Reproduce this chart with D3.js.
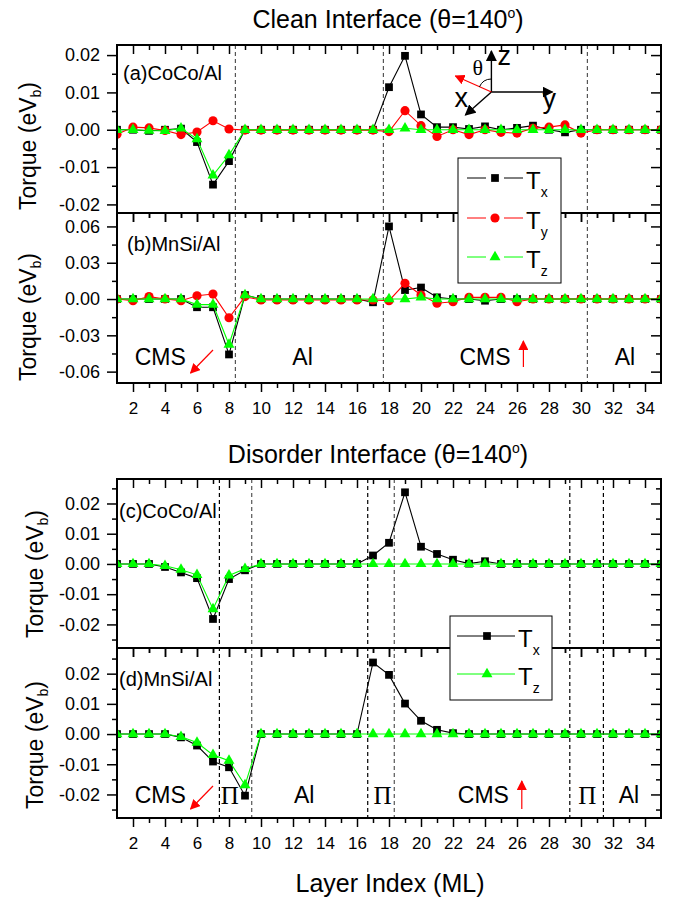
<!DOCTYPE html>
<html><head><meta charset="utf-8">
<script src="https://cdn.jsdelivr.net/npm/d3@7"></script>
<style>
body{margin:0;background:#fff}
svg{display:block}
text{font-family:"Liberation Sans",Arial,sans-serif;fill:#000}
</style>
</head><body>
<svg id="chart" width="680" height="901"></svg>
<script>
// ---------------- DATA ----------------
const layers = d3.range(1, 36); // layer index 1..35
const xMajorTicks = [2,4,6,8,10,12,14,16,18,20,22,24,26,28,30,32,34];
const xMinorTicks = [3,5,7,9,11,13,15,17,19,21,23,25,27,29,31,33];

// (a) CoCo/Al clean
const aTx = [0,0,-0.0003,0,0.0003,-0.0033,-0.0147,-0.0084,0,0,0,0,0,0,0,0,0,0.0114,0.0198,0.0041,0.0007,0.0007,0.0002,0.0009,0,0.0005,0.0011,0,-0.0007,0,0,0,0,0,0];
const aTy = [-0.0012,0.0007,0.0005,-0.0002,-0.0013,-0.0006,0.0024,0.0002,-0.0001,-0.0001,-0.0001,-0.0001,-0.0001,-0.0001,-0.0001,-0.0001,-0.0001,-0.0005,0.0051,0.0011,-0.0018,0,-0.0013,0,-0.0007,-0.0009,0.0004,0.0007,0.0013,-0.0009,0,0,0,0,0];
const aTz = [0,0,-0.0002,-0.0003,0.0004,-0.0025,-0.0122,-0.0068,0,0,0,0,0,0,0,0,0,0,0.0004,0,0,0,0,0,0,0,0,0,0,0,0,0,0,0,0];
// (b) MnSi/Al clean
const bTx = [0,0,0,0,0,-0.0068,-0.0068,-0.0458,0.0033,0,0,0,0,0,0,0,-0.0027,0.060,0.0074,0.0095,0.0014,0,0,-0.0014,0,0,0,0,0,0,0,0,0,0,0];
const bTy = [0,-0.0014,0.0020,0,-0.0014,0.0027,0.0041,-0.0155,0.0020,-0.0008,-0.0008,-0.0008,-0.0008,-0.0008,-0.0008,-0.0008,-0.0008,-0.0014,0.0130,0.0033,-0.0035,-0.0022,0.0014,0.0014,0.0014,-0.0022,0,0,0,0,0,0,0,0,0];
const bTz = [0,0,0,0,0,-0.0046,-0.0046,-0.0376,0.0033,0,0,0,0,0,0,0,0,0,0,0.0014,0,0,0,0,0,0,0,0,0,0,0,0,0,0,0];
// (c) CoCo/Al disorder
const cTx = [0,0,0,-0.0010,-0.0028,-0.0047,-0.0182,-0.0050,-0.0021,0,0,0,0,0,0,0,0.0028,0.0070,0.0237,0.0057,0.0033,0.0014,0.0001,0.0009,0,0,0,0,0,0,0,0,0,0,0];
const cTz = [0,0,0,-0.0006,-0.0019,-0.0036,-0.0149,-0.0038,-0.0016,0,0,0,0,0,0,0,0,0,0,0,0,0,0,0,0,0,0,0,0,0,0,0,0,0,0];
// (d) MnSi/Al disorder
const dTx = [0,0,0,0,-0.0011,-0.0038,-0.0091,-0.0110,-0.0204,0,0,0,0,0,0,0,0.0237,0.0196,0.0101,0.0044,0.0014,0.0003,0,0,0,0,0,0,0,0,0,0,0,0,0];
const dTz = [0,0,0,0,-0.0009,-0.0028,-0.0069,-0.0088,-0.0169,0,0,0,0,0,0,0,0,0,0,0,0,0,0,0,0,0,0,0,0,0,0,0,0,0,0];

const yTicksA = [-0.02,-0.01,0,0.01,0.02];
const yMinorA = [-0.015,-0.005,0.005,0.015];
const yTicksB = [-0.06,-0.03,0,0.03,0.06];
const yMinorB = [-0.045,-0.015,0.015,0.045];
const yTicksCD = [-0.02,-0.01,0,0.01,0.02];
const yMinorCD = [-0.025,-0.015,-0.005,0.005,0.015,0.025];

const cleanBoundaries = [8.4, 17.65, 30.4];
const disorderBoundaries = [7.4, 9.42, 16.67, 18.33, 29.3, 31.4];
const disorderBoundaryDark = [true, false, true, false, true, true];

const cleanRegions = [{t:"CMS",at:3.7},{t:"Al",at:12.6},{t:"CMS",at:24.0},{t:"Al",at:32.75}];
const disorderRegions = [{t:"CMS",at:3.7},{t:"Al",at:12.7},{t:"CMS",at:23.9},{t:"Al",at:33.0}];
const piRegions = [8.05, 17.6, 30.4];

// ---------------- LAYOUT ----------------
const svg = d3.select("#chart");
const L = 117, R = 661;
const x = d3.scaleLinear().domain([1, 35]).range([L, R]);
const BLACK = "#000", RED = "#ff0000", GREEN = "#00ff00";
const SQ = {type: d3.symbolSquare, size: 60};
const CI = {type: d3.symbolCircle, size: 66};
const TR = {type: d3.symbolTriangle, size: 52};

const panels = [
  {id:"a", top:45, bottom:213, domain:[-0.0223,0.0227], ticks:yTicksA, minor:yMinorA, label:"(a)CoCo/Al", lx:123, ly:80, showX:false,
   series:[{v:aTx,c:BLACK,s:SQ},{v:aTy,c:RED,s:CI},{v:aTz,c:GREEN,s:TR}]},
  {id:"b", top:213, bottom:383, domain:[-0.0694,0.0711], ticks:yTicksB, minor:yMinorB, label:"(b)MnSi/Al", lx:127, ly:251, showX:true,
   series:[{v:bTx,c:BLACK,s:SQ},{v:bTy,c:RED,s:CI},{v:bTz,c:GREEN,s:TR}]},
  {id:"c", top:479, bottom:648, domain:[-0.0278,0.0281], ticks:yTicksCD, minor:yMinorCD, label:"(c)CoCo/Al", lx:119, ly:518, showX:false,
   series:[{v:cTx,c:BLACK,s:SQ},{v:cTz,c:GREEN,s:TR}]},
  {id:"d", top:648, bottom:818, domain:[-0.0278,0.0285], ticks:yTicksCD, minor:yMinorCD, label:"(d)MnSi/Al", lx:119, ly:686, showX:true,
   series:[{v:dTx,c:BLACK,s:SQ},{v:dTz,c:GREEN,s:TR}]}
];

const defs = svg.append("defs");
const scales = {};

function styleAxis(g){
  g.select(".domain").remove();
  g.selectAll(".tick line").attr("stroke","#000").attr("stroke-width",1.5);
  g.selectAll(".tick text").style("font-family",'"Liberation Sans",Arial,sans-serif').attr("fill","#000");
}

// boundaries first (under data)
function boundaries(list, top, bottom, darkFlags){
  list.forEach((b,i)=>{
    svg.append("line").attr("x1",x(b)).attr("x2",x(b)).attr("y1",top).attr("y2",bottom)
      .attr("stroke", darkFlags && darkFlags[i] ? "#000" : "#555")
      .attr("stroke-width",1.2).attr("stroke-dasharray","4,3");
  });
}
boundaries(cleanBoundaries, 45, 383, null);
boundaries(disorderBoundaries, 479, 818, disorderBoundaryDark);

panels.forEach(p=>{
  const y = d3.scaleLinear().domain(p.domain).range([p.bottom, p.top]);
  scales[p.id] = y;
  defs.append("clipPath").attr("id","clip"+p.id).append("rect")
    .attr("x",L).attr("y",p.top).attr("width",R-L).attr("height",p.bottom-p.top);
  const plot = svg.append("g").attr("clip-path",`url(#clip${p.id})`);
  p.series.forEach(s=>{
    plot.append("path").datum(s.v).attr("fill","none").attr("stroke",s.c).attr("stroke-width",1.1)
      .attr("d", d3.line().x((d,i)=>x(layers[i])).y(d=>y(d)));
    plot.append("g").selectAll("path").data(s.v).join("path")
      .attr("transform",(d,i)=>`translate(${x(layers[i])},${y(d)})`)
      .attr("d", d3.symbol().type(s.s.type).size(s.s.size))
      .attr("fill", s.c);
  });
  // left axis (outward)
  svg.append("g").attr("transform",`translate(${L},0)`)
    .call(d3.axisLeft(y).tickValues(p.ticks).tickSize(10).tickPadding(7).tickFormat(d=>d.toFixed(2)))
    .call(styleAxis).selectAll(".tick text").style("font-size","18px");
  svg.append("g").attr("transform",`translate(${L},0)`)
    .call(d3.axisLeft(y).tickValues(p.minor).tickSize(5).tickFormat("")).call(styleAxis);
  // right axis (inward)
  svg.append("g").attr("transform",`translate(${R},0)`)
    .call(d3.axisLeft(y).tickValues(p.ticks).tickSize(10).tickFormat("")).call(styleAxis);
  svg.append("g").attr("transform",`translate(${R},0)`)
    .call(d3.axisLeft(y).tickValues(p.minor).tickSize(5).tickFormat("")).call(styleAxis);
  // top axis (inward)
  svg.append("g").attr("transform",`translate(0,${p.top})`)
    .call(d3.axisBottom(x).tickValues(xMajorTicks).tickSize(9).tickFormat("")).call(styleAxis);
  svg.append("g").attr("transform",`translate(0,${p.top})`)
    .call(d3.axisBottom(x).tickValues(xMinorTicks).tickSize(5).tickFormat("")).call(styleAxis);
  // bottom axis (outward)
  const bx = svg.append("g").attr("transform",`translate(0,${p.bottom})`)
    .call(d3.axisBottom(x).tickValues(xMajorTicks).tickSize(9).tickPadding(10).tickFormat(p.showX ? d3.format("d") : ""))
    .call(styleAxis);
  bx.selectAll(".tick text").style("font-size","17px");
  svg.append("g").attr("transform",`translate(0,${p.bottom})`)
    .call(d3.axisBottom(x).tickValues(xMinorTicks).tickSize(5).tickFormat("")).call(styleAxis);
  // frame
  svg.append("rect").attr("x",L).attr("y",p.top).attr("width",R-L).attr("height",p.bottom-p.top)
    .attr("fill","none").attr("stroke","#000").attr("stroke-width",2);
  // panel label
  svg.append("text").attr("x",p.lx).attr("y",p.ly).style("font-size","20px").text(p.label);
  // y title
  const cy = (p.id==="a")?146:(p.id==="b")?317:(p.id==="c")?574:745;
  const tx = (p.id==="a"||p.id==="b")?36:43;
  const t = svg.append("text").attr("transform",`translate(${tx},${cy}) rotate(-90)`)
    .attr("text-anchor","middle").style("font-size","23px");
  t.append("tspan").text("Torque (eV");
  t.append("tspan").attr("dy",5).style("font-size","14px").text("b");
  t.append("tspan").attr("dy",-5).text(")");
});

// ---------------- Region labels ----------------
function regionText(list, yb){
  list.forEach(r=>{
    svg.append("text").attr("x",x(r.at)).attr("y",yb).attr("text-anchor","middle")
      .style("font-size","23px").text(r.t);
  });
}
regionText(cleanRegions, 365);
regionText(disorderRegions, 803);
piRegions.forEach(pv=>{
  svg.append("text").attr("x",x(pv)).attr("y",804).attr("text-anchor","middle")
    .style("font-family",'"Liberation Serif","Times New Roman",serif').style("font-size","25px").text("Π");
});

// arrow heads
function head(id, color, size){
  defs.append("marker").attr("id",id).attr("viewBox","0 0 10 10").attr("refX",9).attr("refY",5)
    .attr("markerWidth",size).attr("markerHeight",size).attr("markerUnits","userSpaceOnUse").attr("orient","auto")
    .append("path").attr("d","M0,0 L10,5 L0,10 z").attr("fill",color);
}
head("redhead", RED, 10);
head("blackhead", "#000", 11);
head("redhead2", RED, 10);

function arrow(x1,y1,x2,y2,color,mk,w){
  svg.append("line").attr("x1",x1).attr("y1",y1).attr("x2",x2).attr("y2",y2)
    .attr("stroke",color).attr("stroke-width",w||1.2).attr("marker-end",`url(#${mk})`);
}
// CMS spin arrows
arrow(x(7.0), 350, x(5.6), 373, RED, "redhead");
arrow(x(26.4), 367, x(26.4), 341, RED, "redhead");
arrow(x(7.0), 786, x(5.6), 809, RED, "redhead");
arrow(x(26.3), 809, x(26.3), 781, RED, "redhead");

// ---------------- Inset coordinate system (panel a) ----------------
const ox = x(24.4), oy = 92;
arrow(ox, oy, ox, 51, "#000", "blackhead", 1.4);
arrow(ox, oy, ox+61, oy, "#000", "blackhead", 1.4);
arrow(ox, oy, ox-26, oy+23, "#000", "blackhead", 1.4);
arrow(ox, oy, ox-36, oy-16, RED, "redhead2", 1.2);
svg.append("path").attr("d",`M${ox},${oy-13} A13,13 0 0 0 ${ox-12},${oy-5}`).attr("fill","none").attr("stroke","#000").attr("stroke-width",1);
svg.append("text").attr("x",ox-19).attr("y",75).style("font-family",'"Liberation Serif",serif').style("font-size","22px").text("θ");
svg.append("text").attr("x",ox+6).attr("y",65).style("font-size","27px").text("z");
svg.append("text").attr("x",ox+51).attr("y",108).style("font-size","27px").text("y");
svg.append("text").attr("x",ox-37).attr("y",107).style("font-size","27px").text("x");

// ---------------- Legends ----------------
function legend(bx, by, bw, bh, items, gapped){
  svg.append("rect").attr("x",bx).attr("y",by).attr("width",bw).attr("height",bh)
    .attr("fill","#fff").attr("stroke","#000").attr("stroke-width",1);
  items.forEach(it=>{
    if(gapped){
      svg.append("line").attr("x1",bx+9).attr("x2",bx+28).attr("y1",it.y).attr("y2",it.y).attr("stroke",it.c).attr("stroke-width",1);
      svg.append("line").attr("x1",bx+46).attr("x2",bx+65).attr("y1",it.y).attr("y2",it.y).attr("stroke",it.c).attr("stroke-width",1);
    } else {
      svg.append("line").attr("x1",bx+7).attr("x2",bx+65).attr("y1",it.y).attr("y2",it.y).attr("stroke",it.c).attr("stroke-width",1);
    }
    svg.append("path").attr("transform",`translate(${bx+37},${it.y})`)
      .attr("d",d3.symbol().type(it.s.type).size(it.s.size)).attr("fill",it.c);
    const t = svg.append("text").attr("x",bx+68).attr("y",it.y+11).style("font-size","24px");
    t.append("tspan").text("T");
    t.append("tspan").attr("dy",8).style("font-size","14px").text(it.sub);
  });
}
legend(458,158,103,125,[{y:178,c:BLACK,s:SQ,sub:"x"},{y:218,c:RED,s:CI,sub:"y"},{y:257,c:GREEN,s:TR,sub:"z"}], true);
legend(450,616,102,84,[{y:636,c:BLACK,s:SQ,sub:"x"},{y:674,c:GREEN,s:TR,sub:"z"}], false);

// ---------------- Titles ----------------
function title(cx, yb, txt){
  const t = svg.append("text").attr("x",cx).attr("y",yb).attr("text-anchor","middle").style("font-size","25px");
  t.append("tspan").text(txt + " (θ=140");
  t.append("tspan").attr("dy",-10).style("font-size","14px").text("o");
  t.append("tspan").attr("dy",10).text(")");
}
title(388, 28, "Clean Interface");
title(378, 463, "Disorder Interface");

svg.append("text").attr("x",390).attr("y",892).attr("text-anchor","middle").style("font-size","25px").text("Layer Index (ML)");
</script>
</body></html>
